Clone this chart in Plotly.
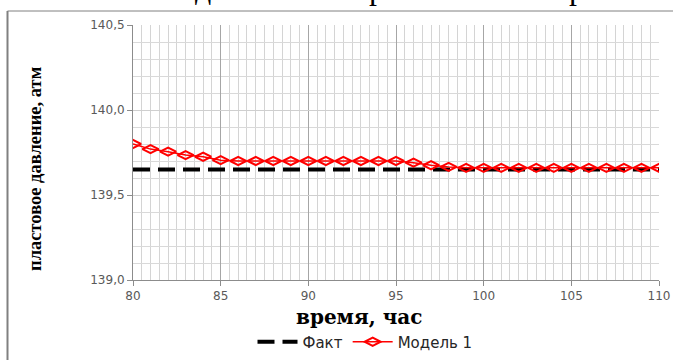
import plotly.graph_objects as go

# time, hours
hours = list(range(80, 111))

# measured reservoir pressure, atm
fact = [139.65, 139.65, 139.65, 139.65, 139.65, 139.65, 139.65, 139.65,
        139.65, 139.65, 139.65, 139.65, 139.65, 139.65, 139.65, 139.65,
        139.65, 139.65, 139.65, 139.65, 139.65, 139.65, 139.65, 139.65,
        139.65, 139.65, 139.65, 139.65, 139.65, 139.65, 139.65]

# model 1 reservoir pressure, atm
model1 = [139.80, 139.77, 139.755, 139.735, 139.725, 139.705, 139.70, 139.70,
          139.70, 139.70, 139.70, 139.70, 139.70, 139.70, 139.70, 139.70,
          139.69, 139.675, 139.665, 139.66, 139.66, 139.66, 139.66, 139.66,
          139.66, 139.66, 139.66, 139.66, 139.66, 139.66, 139.66]

series_names = ["Факт", "Модель 1"]
x_title = "время, час"
y_title = "пластовое давление, атм"

W, H = 673, 360
L, R, T, B = 133, 14, 25, 80
pw, ph = W - L - R, H - T - B


def px(xp):
    return (xp - L) / pw


def py(yp):
    return (H - B - yp) / ph


fig = go.Figure()
fig.add_trace(go.Scatter(
    x=hours, y=fact, name=series_names[0], mode="lines",
    line=dict(color="black", width=4, dash="17px,8px"),
))
fig.add_trace(go.Scatter(
    x=hours, y=model1, name=series_names[1], mode="lines+markers",
    line=dict(color="#ff0000", width=1.5),
    marker=dict(symbol="diamond-wide-open", size=11.5, color="#ff0000",
                line=dict(width=2, color="#ff0000")),
))

tick_font = dict(family="DejaVu Sans", size=12, color="#595959")

fig.update_xaxes(
    range=[80, 110], tick0=80, dtick=5, tickformat="d",
    ticks="outside", ticklen=5, tickcolor="#8c8c8c", tickwidth=1,
    showline=True, linecolor="#8c8c8c", linewidth=1,
    showgrid=True, gridcolor="#a6a6a6", gridwidth=1,
    minor=dict(dtick=0.5, showgrid=True, gridcolor="#d4d4d4", gridwidth=1),
    zeroline=False, tickfont=tick_font,
)
fig.update_yaxes(
    range=[139.0, 140.5], tick0=139.0, dtick=0.5, tickformat=".1f",
    ticks="outside", ticklen=5, tickcolor="#8c8c8c", tickwidth=1,
    showline=True, linecolor="#8c8c8c", linewidth=1,
    showgrid=True, gridcolor="#cfcfcf", gridwidth=1,
    minor=dict(dtick=0.1, showgrid=True, gridcolor="#d9d9d9", gridwidth=1),
    zeroline=False, tickfont=tick_font,
)

annotations = [
    dict(x=px(359), y=py(317), xref="paper", yref="paper",
         text="<b>" + x_title + "</b>", showarrow=False,
         xanchor="center", yanchor="middle",
         font=dict(family="DejaVu Serif", size=20, color="black")),
    dict(x=px(35), y=py(169), xref="paper", yref="paper",
         text="<b>" + y_title + "</b>", showarrow=False, textangle=-90,
         xanchor="center", yanchor="middle",
         font=dict(family="Liberation Serif", size=18.5, color="black")),
]
# lower edge of the caption line above the chart frame
for ch, xc in [("д", 203), ("р", 377), ("р", 577)]:
    annotations.append(dict(
        x=px(xc), y=py(8), xref="paper", yref="paper", text=ch,
        showarrow=False, xanchor="center", yanchor="bottom",
        font=dict(family="Liberation Serif", size=32, color="black"),
    ))

shapes = [
    # chart frame (left and top edges)
    dict(type="line", xref="paper", yref="paper",
         x0=px(7.5), x1=px(7.5), y0=py(11), y1=py(380),
         line=dict(color="#808080", width=2)),
    dict(type="line", xref="paper", yref="paper",
         x0=px(7.5), x1=px(700), y0=py(11), y1=py(11),
         line=dict(color="#808080", width=1)),
]

fig.update_layout(
    width=W, height=H,
    margin=dict(l=L, r=R, t=T, b=B, autoexpand=False),
    paper_bgcolor="white", plot_bgcolor="white",
    separators=", ",
    showlegend=True,
    legend=dict(orientation="h", x=px(365), y=py(342),
                xanchor="center", yanchor="middle",
                font=dict(family="DejaVu Sans", size=15, color="#262626"),
                bgcolor="rgba(0,0,0,0)", itemwidth=40, tracegroupgap=0),
    annotations=annotations, shapes=shapes,
)

fig.write_html("out.html")
